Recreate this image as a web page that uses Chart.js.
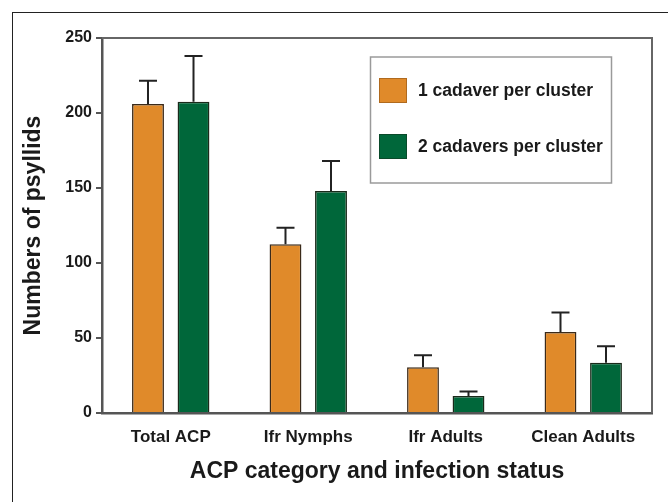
<!DOCTYPE html>
<html>
<head>
<meta charset="utf-8">
<script src="https://cdn.jsdelivr.net/npm/chart.js@4/dist/chart.umd.min.js"></script>
<style>
  html, body { margin: 0; padding: 0; background: #fff; }
  #wrap { position: relative; width: 668px; height: 502px; overflow: hidden; }
  #frame { position: absolute; left: 12px; top: 12px; width: 700px; height: 520px;
           border-left: 1.5px solid #222; border-top: 1.5px solid #222; pointer-events: none; }
</style>
</head>
<body>
<div id="wrap">
  <canvas id="c" width="668" height="502"></canvas>
  <div id="frame"></div>
</div>
<script>
const categories = ['Total ACP', 'Ifr Nymphs', 'Ifr Adults', 'Clean Adults'];
const seriesNames = ['1 cadaver per cluster', '2 cadavers per cluster'];
const oneCadaver = [206, 112.5, 30.5, 54];
const oneCadaverErr = [15.5, 11, 8, 13];
const twoCadavers = [207.5, 148, 11.3, 33.5];
const twoCadaversErr = [30.5, 20, 3, 11];
const yTicks = [0, 50, 100, 150, 200, 250];

const FONT = "'Liberation Sans', Arial, Helvetica, sans-serif";
const ORANGE = '#E08A2A';
const GREEN = '#00673A';
const errors = [oneCadaverErr, twoCadaversErr];

const errorBars = {
  id: 'errorBars',
  afterDatasetsDraw(chart) {
    const ctx = chart.ctx;
    const y = chart.scales.y;
    ctx.save();
    ctx.strokeStyle = '#222';
    ctx.lineWidth = 2;
    chart.data.datasets.forEach((ds, di) => {
      const meta = chart.getDatasetMeta(di);
      meta.data.forEach((bar, i) => {
        const top = y.getPixelForValue(ds.data[i] + errors[di][i]);
        ctx.beginPath();
        ctx.moveTo(bar.x, bar.y);
        ctx.lineTo(bar.x, top);
        ctx.moveTo(bar.x - 9, top);
        ctx.lineTo(bar.x + 9, top);
        ctx.stroke();
      });
    });
    ctx.restore();
  }
};

const frameAndLegend = {
  id: 'frameAndLegend',
  afterDraw(chart) {
    const ctx = chart.ctx;
    const a = chart.chartArea;
    ctx.save();
    ctx.strokeStyle = '#666';
    ctx.lineWidth = 2;
    ctx.beginPath();
    ctx.moveTo(a.left, a.top);
    ctx.lineTo(a.right, a.top);
    ctx.lineTo(a.right, a.bottom);
    ctx.stroke();

    // legend box
    ctx.strokeStyle = '#9a9a9a';
    ctx.lineWidth = 1.5;
    ctx.strokeRect(370.5, 57, 241, 126);
    const items = [[ORANGE, '#b06a1e', 78], [GREEN, '#0a4a2a', 134]];
    ctx.font = 'bold 17.5px ' + FONT;
    ctx.textBaseline = 'middle';
    ctx.textAlign = 'left';
    items.forEach((it, i) => {
      ctx.fillStyle = it[0];
      ctx.fillRect(379, it[2], 28, 25);
      ctx.strokeStyle = it[1];
      ctx.lineWidth = 1;
      ctx.strokeRect(379.5, it[2] + 0.5, 27, 24);
      ctx.fillStyle = '#1a1a1a';
      ctx.fillText(chart.data.datasets[i].label, 418, it[2] + 13);
    });
    ctx.restore();
  }
};

new Chart(document.getElementById('c'), {
  type: 'bar',
  data: {
    labels: categories,
    datasets: [
      { label: seriesNames[0], data: oneCadaver, backgroundColor: ORANGE,
        borderColor: '#3a2a1a', borderWidth: 1.5, borderSkipped: 'bottom' },
      { label: seriesNames[1], data: twoCadavers, backgroundColor: GREEN,
        borderColor: '#1a2a1a', borderWidth: 1.5, borderSkipped: 'bottom' }
    ]
  },
  options: {
    responsive: false,
    animation: false,
    devicePixelRatio: 1,
    layout: { padding: { top: 38, right: 16, left: 0, bottom: 0 } },
    categoryPercentage: 0.662,
    barPercentage: 0.70,
    plugins: { legend: { display: false }, tooltip: { enabled: false } },
    scales: {
      x: {
        afterFit(s) { s.height = 89; },
        grid: { display: true, drawOnChartArea: false, drawTicks: false },
        border: { display: true, color: '#555', width: 2.5 },
        ticks: { font: { family: FONT, size: 17, weight: 'bold' }, color: '#1a1a1a', padding: 14 },
        title: { display: true, text: 'ACP category and infection status',
                 font: { family: FONT, size: 23, weight: 'bold' }, color: '#1a1a1a',
                 padding: { top: 0, bottom: 17 } }
      },
      y: {
        min: 0, max: 250,
        afterFit(s) { s.width = 102; },
        afterBuildTicks(s) { s.ticks = yTicks.map(v => ({ value: v })); },
        grid: { display: true, drawOnChartArea: false, drawTicks: true, tickLength: 6, color: '#555', lineWidth: 2 },
        border: { display: true, color: '#555', width: 2.5 },
        ticks: { font: { family: FONT, size: 16, weight: 'bold' }, color: '#1a1a1a', padding: 4 },
        title: { display: true, text: 'Numbers of psyllids',
                 font: { family: FONT, size: 23, weight: 'bold' }, color: '#1a1a1a',
                 padding: { top: 20, bottom: 0 } }
      }
    }
  },
  plugins: [errorBars, frameAndLegend]
});
</script>
</body>
</html>
